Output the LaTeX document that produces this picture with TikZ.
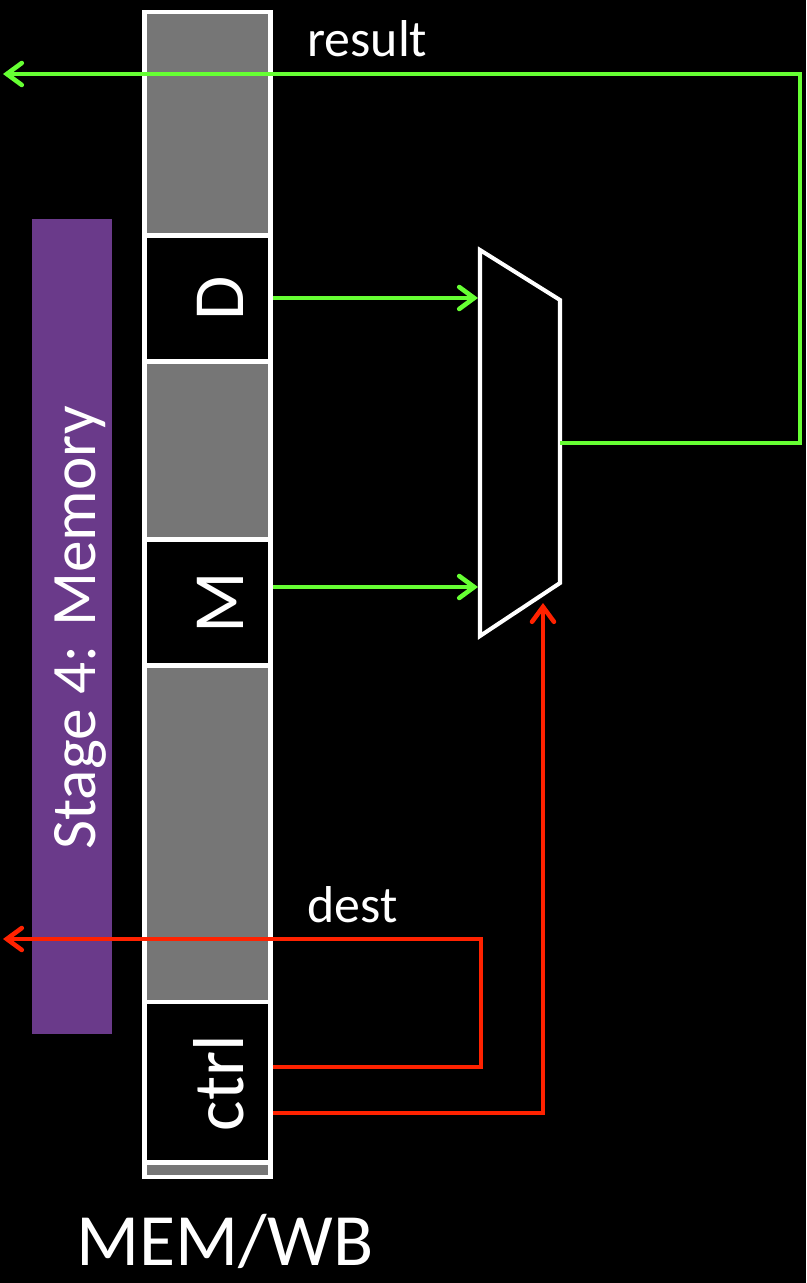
\documentclass[tikz,border=0pt]{standalone}
\usepackage{fontspec}
\setmainfont{Carlito}
\usetikzlibrary{arrows.meta}
\definecolor{wiregreen}{RGB}{102,255,51}
\definecolor{wirered}{RGB}{255,34,0}
\definecolor{stagepurple}{RGB}{106,58,138}
\definecolor{reggray}{RGB}{118,118,118}

\begin{document}
\begin{tikzpicture}[x=0.02cm, y=-0.02cm,
    reg/.style = {draw=white, line width=2.3pt, inner sep=0pt, minimum width=2.52cm},
    txt/.style = {text=white, inner sep=0pt},
    gwire/.style = {draw=wiregreen, line width=2.6pt},
    rwire/.style = {draw=wirered, line width=2.6pt},
    tip/.style = {-{Straight Barb[length=8.5pt, width=12.5pt, line cap=round]}}]
            \fill[black] (0,0) rectangle (806,1283);
            \useasboundingbox (0,0) rectangle (806,1283);

            \node[fill=stagepurple, inner sep=0pt, minimum width=1.6cm, minimum height=16.3cm] (stage) at (72,626.5) {};
            \node[txt, rotate=90, anchor=base, font=\fontsize{36}{36}\selectfont] (stagetxt) at (95,628) {Stage 4: Memory};

            % pipeline register
            \node[reg, fill=reggray, minimum height=23.32cm] (memwb) at (207.5,594.5) {};
            \node[reg, fill=black, minimum height=2.52cm] (D) at (207.5,298.5) {};
            \node[reg, fill=black, minimum height=2.52cm] (M) at (207.5,602.5) {};
            \node[reg, fill=black, minimum height=3.22cm] (ctrl) at (207.5,1082) {};

            \node[txt, rotate=90, anchor=base, font=\fontsize{41}{41}\selectfont] (Dtxt) at (243,298) {D};
            \node[txt, rotate=90, anchor=base, font=\fontsize{41}{41}\selectfont] (Mtxt) at (243,603) {M};
            \node[txt, rotate=90, anchor=base, font=\fontsize{41}{41}\selectfont] (ctrltxt) at (243,1083) {ctrl};
            \node[txt, anchor=base, font=\fontsize{42}{42}\selectfont] (memwbtxt) at (225,1265) {MEM/WB};

            % mux
            \coordinate (mux-tl) at (480,250);
            \coordinate (mux-tr) at (560,300);
            \coordinate (mux-br) at (560,583);
            \coordinate (mux-bl) at (480,636);
            \draw[white, line width=2.3pt] (mux-tl) -- (mux-tr) -- (mux-br) -- (mux-bl) -- cycle;

            \coordinate (mux-in1) at (478,298);
            \coordinate (mux-in2) at (478,587);
            \coordinate (mux-out) at (560,443);
            \coordinate (mux-sel) at (543,603);

            \coordinate (res-turn) at (800,74);
            \coordinate (res-end) at (3,74);
            \coordinate (dest-turn) at (481,939);
            \coordinate (dest-end) at (3,939);

            \draw[gwire, tip] (mux-in1 -| D.east) -- (mux-in1);
            \draw[gwire, tip] (mux-in2 -| M.east) -- (mux-in2);
            \draw[gwire, tip] (mux-out) -| (res-turn) -- (res-end);

            \draw[rwire, tip] ([yshift=0.3cm]ctrl.east) -| (dest-turn) -- (dest-end);
            \draw[rwire, tip] ([yshift=-0.62cm]ctrl.east) -| (mux-sel);

            \node[txt, anchor=base west, font=\fontsize{29.5}{30}\selectfont] (result) at (307,57) {result};
            \node[txt, anchor=base west, font=\fontsize{29.5}{30}\selectfont] (dest) at (307,922) {dest};
        \end{tikzpicture}
\end{document}
